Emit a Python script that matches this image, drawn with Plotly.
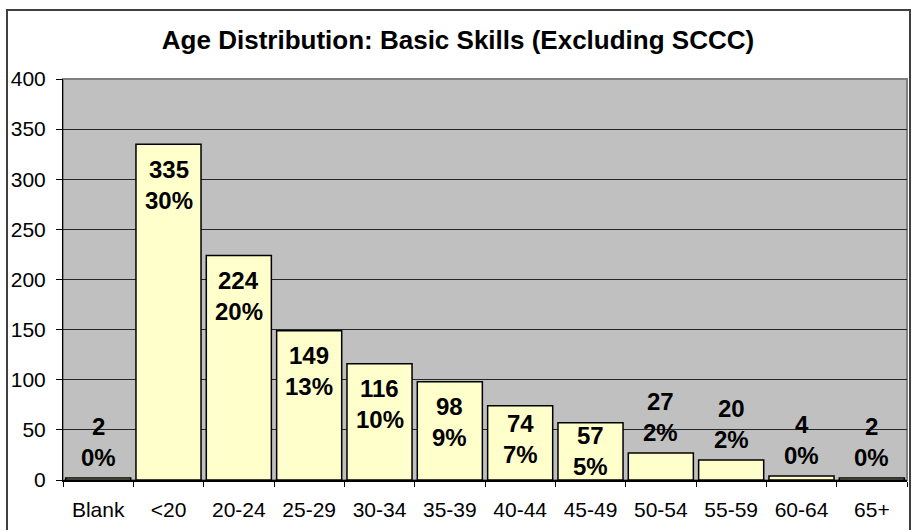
import plotly.graph_objects as go

categories = ["Blank", "<20", "20-24", "25-29", "30-34", "35-39", "40-44",
              "45-49", "50-54", "55-59", "60-64", "65+"]
counts = [2, 335, 224, 149, 116, 98, 74, 57, 27, 20, 4, 2]
y_ticks = [0, 50, 100, 150, 200, 250, 300, 350, 400]
title_text = "Age Distribution: Basic Skills (Excluding SCCC)"

total = sum(counts)
percents = [round(100 * c / total) for c in counts]

FONT = "Arial, Liberation Sans, sans-serif"

fig = go.Figure()
fig.add_trace(go.Bar(
    x=categories, y=counts,
    marker=dict(color="#FFFFCC", line=dict(color="#000000", width=1.5)),
    hoverinfo="x+y",
))


def label_center(v):
    # mimic Excel "inside end" placement with overflow for small bars
    if v >= 90:
        return v - 40
    if v >= 50:
        return 0.7 * v - 10
    return v + 36


annotations = []
for cat, v, p in zip(categories, counts, percents):
    c = label_center(v)
    annotations.append(dict(x=cat, y=c, text=f"<b>{v}</b>", showarrow=False,
                            xref="x", yref="y", yanchor="middle", yshift=15,
                            font=dict(family=FONT, size=24, color="#000")))
    annotations.append(dict(x=cat, y=c, text=f"<b>{p}%</b>", showarrow=False,
                            xref="x", yref="y", yanchor="middle", yshift=-16,
                            font=dict(family=FONT, size=24, color="#000")))

fig.update_layout(
    width=916, height=530,
    margin=dict(l=63, r=9, t=79, b=50, autoexpand=False),
    paper_bgcolor="#FFFFFF",
    plot_bgcolor="#C0C0C0",
    bargap=0.075,
    showlegend=False,
    title=dict(text=f"<b>{title_text}</b>", x=0.5, xanchor="center",
               y=1 - 40 / 530, yanchor="middle", yref="container",
               font=dict(family=FONT, size=26, color="#000")),
    font=dict(family=FONT, size=21, color="#000"),
    annotations=annotations,
    xaxis=dict(type="category", showgrid=False, showline=True,
               linecolor="#000", linewidth=1.5, ticks="outside",
               tickson="boundaries", ticklen=5, tickcolor="#000",
               automargin=False, ticklabelstandoff=10,
               tickfont=dict(family=FONT, size=21, color="#000")),
    yaxis=dict(range=[0, 400], tickvals=y_ticks, showgrid=True,
               gridcolor="#262626", gridwidth=1, showline=True,
               linecolor="#000", linewidth=1, ticks="outside", ticklen=6,
               tickcolor="#000", zeroline=False, automargin=False,
               ticklabelstandoff=6,
               tickfont=dict(family=FONT, size=21, color="#000")),
    shapes=[
        # plot area border (top/right gray)
        dict(type="rect", xref="paper", yref="paper", x0=0, x1=1, y0=0, y1=1,
             line=dict(color="#808080", width=2), layer="below"),
        # outer chart frame
        dict(type="rect", xref="paper", yref="paper",
             x0=(7 - 63) / 844, x1=(910 - 63) / 844,
             y0=(480 - 540) / 401, y1=(480 - 10) / 401,
             line=dict(color="#404040", width=2)),
    ],
)

fig.write_html("out.html", config={"displayModeBar": False},
               post_script="document.body.style.margin='0px';")
